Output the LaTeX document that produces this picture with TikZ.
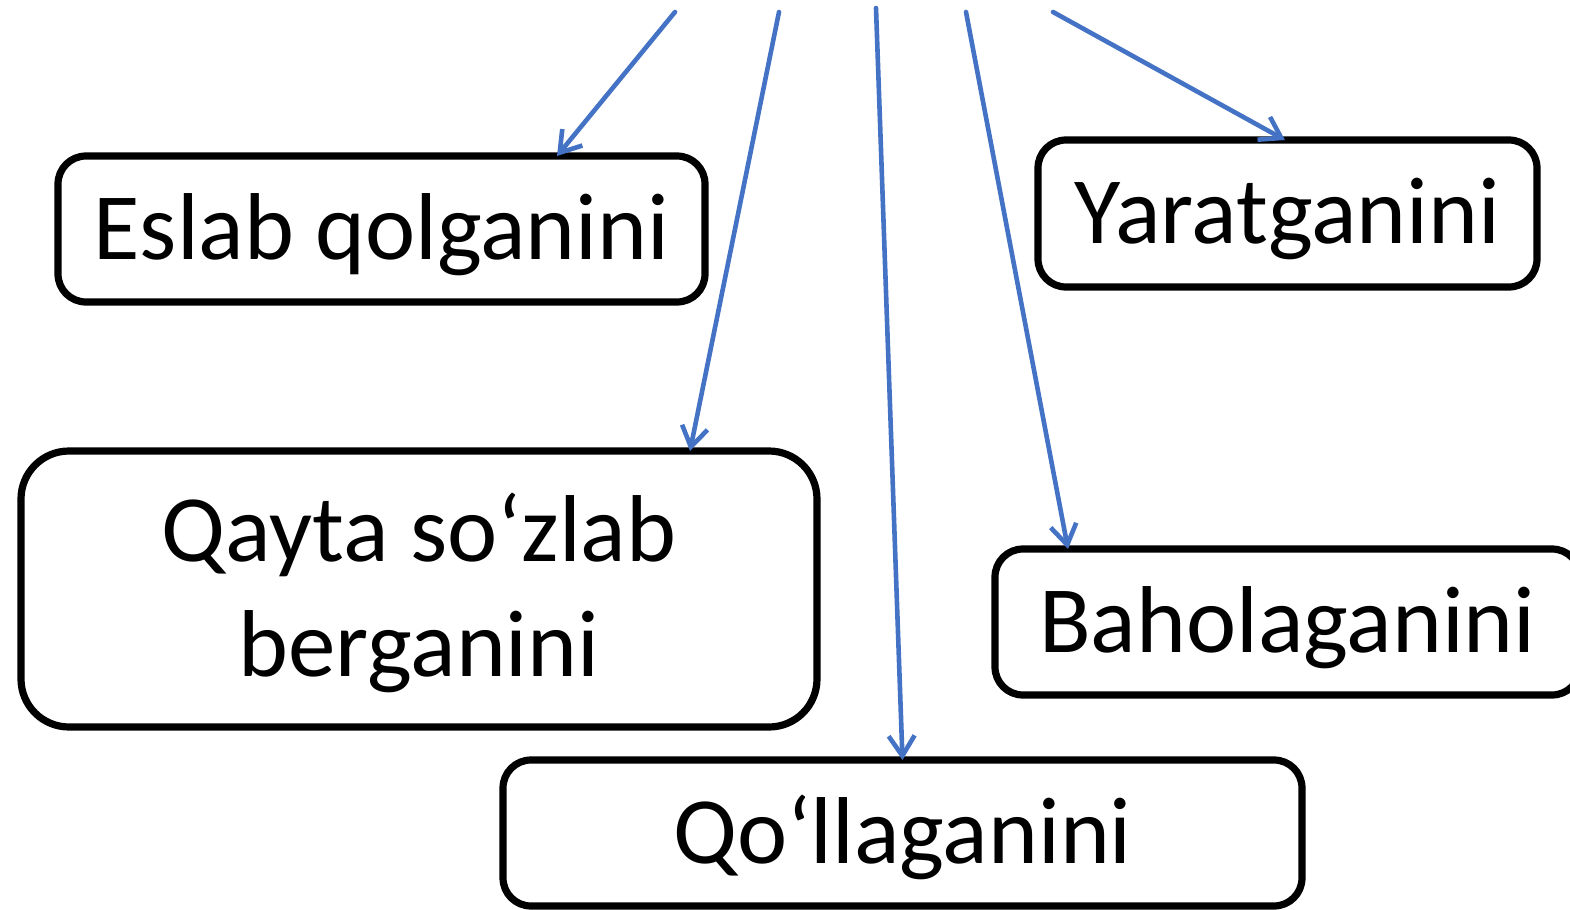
\documentclass[tikz,border=0pt]{standalone}
\usepackage{fontspec}
\setmainfont{Carlito}
\usetikzlibrary{arrows.meta}

\begin{document}
\begin{tikzpicture}[y=0.5pt, x=0.5pt, yscale=-1, inner sep=0pt, outer sep=0pt,
  box/.style={draw=black, line width=3.6pt, rounded corners=14pt, align=center,
    font=\fontsize{47.5}{57.5}\selectfont, text height=30pt, text depth=0pt},
  link/.style={draw=bl, line width=2.3pt, line cap=round,
    -{Straight Barb[length=10pt,width=13pt]}}]
\definecolor{bl}{rgb}{0.267,0.447,0.769}
\useasboundingbox (0,0) rectangle (1570,910);
\node [box, minimum width=323.5pt, minimum height=73pt] (eslab) at (381.5,229) {Eslab qolganini};
\node [box, minimum width=249.5pt, minimum height=73.5pt] (yarat) at (1287.5,213.5) {Yaratganini};
\node [box, minimum width=398pt, minimum height=138pt, rounded corners=24pt, text height=87.5pt] (qayta) at (419,589) {Qayta so‘zlab\\berganini};
\node [box, minimum width=292.5pt, minimum height=73pt] (baho) at (1287.5,622) {Baholaganini};
\node [box, minimum width=399.5pt, minimum height=73pt] (qoll) at (902.5,833) {Qo‘llaganini};
% free ends at the top
\coordinate (s1) at (675,12);
\coordinate (s2) at (779,12);
\coordinate (s3) at (876,8);
\coordinate (s4) at (966,12);
\coordinate (s5) at (1053,12);
\draw [link] (s1) -- ([xshift=87.75pt]eslab.north);
\draw [link] (s2) -- ([xshift=135.5pt]qayta.north);
\draw [link] (s3) -- (qoll.north);
\draw [link] (s4) -- ([xshift=-109.75pt]baho.north);
\draw [link] (s5) -- ([xshift=-1.25pt]yarat.north);

\end{tikzpicture}
\end{document}
